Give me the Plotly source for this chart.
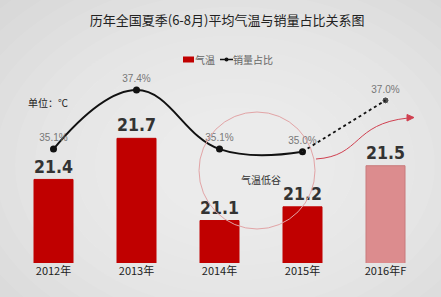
import plotly.graph_objects as go

years = ["2012年", "2013年", "2014年", "2015年", "2016年F"]
temps = [21.4, 21.7, 21.1, 21.2, 21.5]
share = [35.1, 37.4, 35.1, 35.0, 37.0]
bar_colors = ["#c00000", "#c00000", "#c00000", "#c00000", "#dc8c8e"]
bar_lines = ["#c00000", "#c00000", "#c00000", "#c00000", "#c87a7c"]

W, H = 441, 297
L, R, T, B = 12, 14, 60, 34
PW, PH = W - L - R, H - T - B

def px(x):
    return (x - L) / PW

def py(y):
    return (H - B - y) / PH

CJK = "Noto Sans CJK SC, Noto Sans, sans-serif"

fig = go.Figure()

fig.add_trace(go.Bar(
    x=years, y=temps, name="气温",
    marker=dict(color=bar_colors, line=dict(color=bar_lines, width=1)),
    width=0.47,
    text=[f"{v:.1f}" for v in temps], textposition="outside",
    textfont=dict(family="DejaVu Sans Condensed, Liberation Sans Narrow, sans-serif", size=18,
                  color="#333333", weight="bold"),
    cliponaxis=False, showlegend=False,
))

fig.add_trace(go.Scatter(
    x=years[:4], y=share[:4], name="销量占比", yaxis="y2",
    mode="lines+markers+text",
    line=dict(color="#111111", width=2, shape="spline", smoothing=1.2),
    marker=dict(color="#111111", size=7),
    text=[f"{v:.1f}%" for v in share[:4]], textposition="top center",
    textfont=dict(family="Liberation Sans, sans-serif", size=10, color="#777777"),
    cliponaxis=False, showlegend=False,
))

fig.add_trace(go.Scatter(
    x=years[3:], y=share[3:], yaxis="y2", showlegend=False,
    mode="lines+markers+text",
    line=dict(color="#111111", width=1.8, dash="dot"),
    marker=dict(color="#111111", size=[0.1, 7]),
    text=["", f"{share[4]:.1f}%"], textposition="top center",
    textfont=dict(family="Liberation Sans, sans-serif", size=10, color="#777777"),
    cliponaxis=False,
))

shapes = []
# vignette background
cx, cy = 235, 165
n = 14
for i in range(n):
    rx = 340 - i * 20
    ry = rx * 0.72
    shapes.append(dict(type="circle", xref="paper", yref="paper", layer="below",
                       x0=px(cx - rx), x1=px(cx + rx), y0=py(cy + ry), y1=py(cy - ry),
                       fillcolor="white", opacity=0.07, line=dict(width=0)))

# circle "气温低谷"
shapes.append(dict(type="circle", xref="paper", yref="paper", layer="above",
                   x0=px(199), x1=px(315), y0=py(229), y1=py(112),
                   line=dict(color="#e2a4a6", width=1)))
# red arrow
path = f"M {px(316)},{py(159)} C {px(362)},{py(156)} {px(352)},{py(124)} {px(408)},{py(118)}"
shapes.append(dict(type="path", xref="paper", yref="paper", path=path,
                   line=dict(color="#d04050", width=1)))
tri = f"M {px(414)},{py(117.5)} L {px(407)},{py(114.5)} L {px(407)},{py(121)} Z"
shapes.append(dict(type="path", xref="paper", yref="paper", path=tri,
                   fillcolor="#d04050", line=dict(color="#d04050", width=1)))

# custom legend
shapes.append(dict(type="rect", xref="paper", yref="paper",
                   x0=px(183), x1=px(194), y0=py(62.5), y1=py(56.5),
                   fillcolor="#c00000", line=dict(width=0)))
shapes.append(dict(type="line", xref="paper", yref="paper",
                   x0=px(220), x1=px(233), y0=py(59.5), y1=py(59.5),
                   line=dict(color="#111111", width=1.5)))
shapes.append(dict(type="circle", xref="paper", yref="paper",
                   x0=px(224.5), x1=px(228.5), y0=py(61.5), y1=py(57.5),
                   fillcolor="#111111", line=dict(width=0)))

annotations = [
    dict(text="气温", xref="paper", yref="paper", x=px(193), y=py(59.5),
         xanchor="left", yanchor="middle",
         showarrow=False, font=dict(family=CJK, size=10, color="#666666")),
    dict(text="销量占比", xref="paper", yref="paper", x=px(231), y=py(59.5),
         xanchor="left", yanchor="middle",
         showarrow=False, font=dict(family=CJK, size=10, color="#666666")),
    dict(text="单位：℃", xref="paper", yref="paper", x=px(48), y=py(102),
         xanchor="center", yanchor="middle",
         showarrow=False, font=dict(family=CJK, size=10, color="#222222")),
    dict(text="气温低谷", xref="paper", yref="paper", x=px(261), y=py(179),
         xanchor="center", yanchor="middle",
         showarrow=False, font=dict(family=CJK, size=10, color="#333333")),
]

fig.update_layout(
    width=W, height=H,
    margin=dict(l=L, r=R, t=T, b=B, autoexpand=False),
    paper_bgcolor="#d4d4d4", plot_bgcolor="rgba(0,0,0,0)",
    title=dict(text="历年全国夏季(6-8月)平均气温与销量占比关系图", x=0.515, xanchor="center",
               y=1 - 20 / H, yanchor="middle",
               font=dict(family=CJK, size=13, color="#222222")),
    xaxis=dict(showgrid=False, zeroline=False, showline=False, ticks="",
               tickfont=dict(family=CJK, size=11, color="#222222")),
    yaxis=dict(range=[20.79, 20.79 + PH / 137], visible=False, fixedrange=True),
    yaxis2=dict(range=[30.66, 30.66 + PH / 25.65], overlaying="y", visible=False),
    bargap=0.5,
    shapes=shapes, annotations=annotations,
    showlegend=False,
)

fig.write_html("out.html")
